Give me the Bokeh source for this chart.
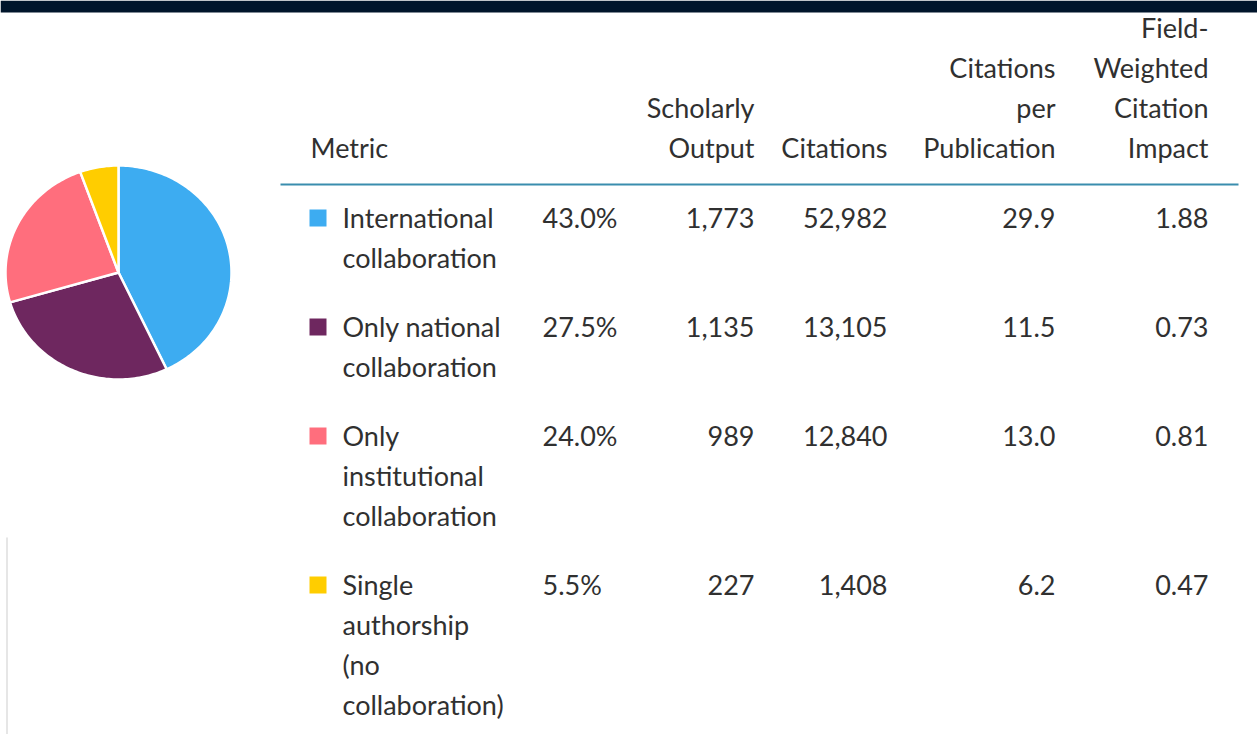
from bokeh.plotting import figure
from bokeh.models import Range1d
from bokeh.core.properties import value
from bokeh.embed import file_html
from bokeh.resources import INLINE
import math

# ---------------- data ----------------
categories = ["International collaboration", "Only national collaboration",
              "Only institutional collaboration", "Single authorship (no collaboration)"]
label_lines = [["International", "collaboration"],
               ["Only national", "collaboration"],
               ["Only", "institutional", "collaboration"],
               ["Single", "authorship", "(no", "collaboration)"]]
shares = [43.0, 27.5, 24.0, 5.5]
scholarly_output = [1773, 1135, 989, 227]
citations = [52982, 13105, 12840, 1408]
citations_per_pub = [29.9, 11.5, 13.0, 6.2]
fwci = [1.88, 0.73, 0.81, 0.47]
colors = ["#3DACF1", "#6E275F", "#FF6E7D", "#FFCD00"]

headers = [["Metric"], [], ["Scholarly", "Output"], ["Citations"],
           ["Citations", "per", "Publication"],
           ["Field-", "Weighted", "Citation", "Impact"]]

# ---------------- layout (screen pixels) ----------------
W, H = 1257, 734
FONT = "Lato"
FSN = 27
FS = f"{FSN}px"
LINE = 40
TXT = "#303030"
MID = 0.36 * FSN  # baseline -> cap middle

def sy(y):  # screen y -> data y
    return H - y

p = figure(width=W, height=H, x_range=Range1d(0, W), y_range=Range1d(0, H),
           output_backend="svg", toolbar_location=None, x_axis_type=None, y_axis_type=None,
           min_border=0, outline_line_color=None, background_fill_color="white")
p.grid.visible = False

def txt(x, base, t, align):
    p.text(x=[x], y=[sy(base - MID)], text=[t],
           text_font=value(FONT), text_font_size=FS, text_color=TXT,
           text_align=align, text_baseline="middle")

# top dark band
p.quad(left=0, right=W, top=sy(0), bottom=sy(12), fill_color="#00152B", line_color=None)
# faint vertical line bottom-left
p.segment(x0=6.5, y0=sy(537), x1=6.5, y1=sy(734), line_color="#E6E6E6", line_width=2)

# ---------------- pie (slightly elliptical, as in the reference) ----------------
cx, cy, rx, ry = 118, 272, 113, 107
total = sum(shares)
start = 0.0
xs_all, ys_all = [], []
for s in shares:
    t0 = start / total * 2 * math.pi
    t1 = (start + s) / total * 2 * math.pi
    n = max(8, int(s * 3))
    xs = [cx]
    ys = [sy(cy)]
    for j in range(n + 1):
        t = t0 + (t1 - t0) * j / n
        xs.append(cx + rx * math.sin(t))
        ys.append(sy(cy - ry * math.cos(t)))
    xs_all.append(xs)
    ys_all.append(ys)
    start += s
p.patches(xs=xs_all, ys=ys_all, fill_color=colors, line_color="white", line_width=2.5,
          line_join="round")

# ---------------- table header ----------------
col_x = [310, 542, 754, 887, 1055, 1208]
col_align = ["left", "left", "right", "right", "right", "right"]
header_base = 157
for hx, al, lines in zip(col_x, col_align, headers):
    n = len(lines)
    for i, t in enumerate(lines):
        txt(hx, header_base - (n - 1 - i) * LINE, t, al)

p.segment(x0=280, y0=sy(184), x1=1238, y1=sy(184), line_color="#3A8DAE", line_width=2)

# ---------------- table rows ----------------
row_base = 227
for k in range(len(categories)):
    lines = label_lines[k]
    p.quad(left=309, right=326, top=sy(row_base - 18), bottom=sy(row_base - 1),
           fill_color=colors[k], line_color=None)
    for i, t in enumerate(lines):
        txt(342, row_base + i * LINE, t, "left")
    vals = [f"{shares[k]:.1f}%", f"{scholarly_output[k]:,}", f"{citations[k]:,}",
            f"{citations_per_pub[k]:.1f}", f"{fwci[k]:.2f}"]
    for v, hx, al in zip(vals, col_x[1:], col_align[1:]):
        txt(hx, row_base, v, al)
    row_base += len(lines) * LINE + 29

open("out.html", "w").write(file_html(p, INLINE))
